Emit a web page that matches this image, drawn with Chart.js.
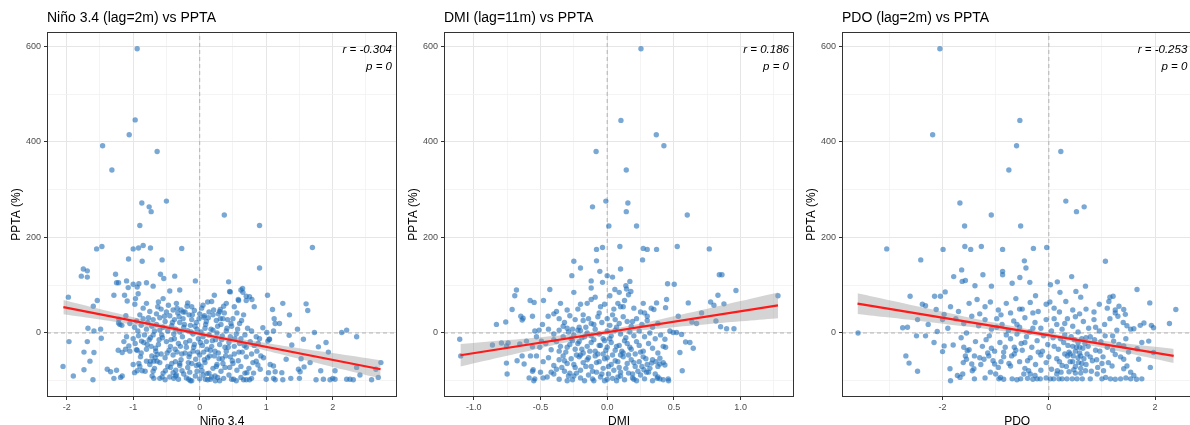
<!DOCTYPE html>
<html><head><meta charset="utf-8">
<script src="https://cdn.jsdelivr.net/npm/chart.js@4.4.1/dist/chart.umd.min.js"></script>
<style>
html,body{margin:0;padding:0;background:#fff;overflow:hidden;width:1190px;height:425px;}
canvas{position:absolute;top:0;}
</style></head><body>
<canvas id="c1" width="400" height="427" style="left:0px"></canvas>
<canvas id="c2" width="400" height="427" style="left:397px"></canvas>
<canvas id="c3" width="400" height="427" style="left:795px"></canvas>
<script>
// ---------- DATA ----------
const titles = ["Niño 3.4 (lag=2m) vs PPTA", "DMI (lag=11m) vs PPTA", "PDO (lag=2m) vs PPTA"];
const xTitles = ["Niño 3.4", "DMI", "PDO"];
const yTitle = "PPTA (%)";
const rTexts = ["r = -0.304", "r = 0.186", "r = -0.253"];
const pTexts = ["p = 0", "p = 0", "p = 0"];
const yTickLabels = [0, 200, 400, 600];

const ninoPts = [
[-0.94,595],[-0.97,446],[-1.06,415],[-1.46,392],[-0.64,380],[-1.32,341],[-0.87,272],[-0.76,264],[-0.73,254],[-0.5,276],[0.37,247],[-0.9,225],[0.9,225],[1.695,179],[0.9,136],
[-1.55,176],[-1.47,181],[-1.0,176],[-0.92,178],[-0.85,183],[-0.74,178],[-0.27,177],[-1.07,155],[-0.865,150],[-0.565,153],[-1.75,134],[-1.69,130],[-1.78,119],[-1.69,117],[-1.265,123],[-1.25,105],[-1.22,105],[-1.1,109],[-1.0,102],[-0.915,103],[-0.8,105],[-0.59,123],[-0.54,114],[-0.375,119],[-0.065,109],[-1.075,95],[-0.94,96],[-0.7,98],[-1.29,79],[-1.13,79],[-0.925,82],[-0.965,72],[-1.975,75],[-1.54,68],[-1.6,56],[-1.09,67],[-0.975,60],[-0.8,62],[-1.215,29],[-1.2,18],[-1.11,36],[-1.68,10],[-1.59,4],[-1.49,8],[-1.22,21],[-1.17,16],
[-1.965,-18],[-2.055,-70],[-1.9,-90],[-1.605,-98],[-1.74,-40],[-1.59,-41],[-1.65,-59],[-1.69,-18],[-1.48,-11],[-1.74,-77],[-1.39,-76],[-1.34,-81],[-1.25,-78],[-1.29,-95],[-1.19,-93],[-1.165,-90],[-1.14,-18],[-1.065,-27],[-1.115,-34],[-1.05,-38],[-0.94,-36],[-0.875,-17],[-1.225,-36],[-1.165,-41],[-1.0,-66],[-0.915,-64],[-0.94,-79],[-0.98,-83],[-0.865,-79],[-0.8,-59],[-0.74,-59],[-0.69,-59],[-0.64,-59],[-0.715,-90],[-0.69,-95],[-0.565,-92],[-0.79,-24],[-0.74,-10],[-0.665,-32],[-0.64,-45],[-0.515,-79],[-0.44,-72],[-0.4,-83],[-0.365,-60],[-0.3,-64],[-0.265,-79],[-0.39,-95],[-0.365,-90],[-0.165,-97],[-0.14,-100],[-0.065,-90],[-0.015,-66],[0.035,-79],[0.11,-85],[0.085,-97],[0.16,-97],[0.235,-100],[0.27,-93],
[0.435,107],[0.46,86],[0.62,90],[0.645,93],[0.7,77],[0.785,70],[0.585,68],[0.36,56],[0.31,49],[1.02,79],[1.25,62],[1.6,61],[1.625,47],[1.35,38],[1.095,49],[1.12,30],[1.2,20],[1.135,20],[0.95,11],[1.01,1],[1.05,-13],[1.11,4],[1.47,8],[1.345,-5],[1.385,-25],[1.56,-13],[1.725,1],[1.785,-29],[1.9,-20],[1.935,-40],[2.135,1],[2.21,6],[2.36,-8],[2.725,-62],[2.65,-76],[2.36,-72],[2.41,-88],[2.585,-98],[2.685,-93],[2.26,-97],[2.31,-98],[2.21,-97],[2.035,-97],[2.0,-95],[1.96,-98],[1.86,-97],[1.75,-98],[0.51,-97],[0.66,-98],[0.75,-98],[1.0,-97],[1.11,-95],[1.135,-98],[1.25,-98],[1.37,-95],[1.5,-95],[1.3,-55],[1.525,-54],[1.66,-62],[1.485,-76],[1.51,-81],[1.57,-71],[1.82,-79],[2.035,-79],[1.06,-66],[1.11,-69],[1.035,-83],[1.135,-81],[1.235,-83],[0.96,-52],[0.85,-59],[0.875,-67],[0.91,-76],[0.81,-84],[0.71,-83],[1.025,-17],[1.045,-13],
[-0.45,88],[-0.3,90],[0.22,79],[0.45,87],[0.65,85],[0.75,76],[0.58,70],[-0.55,72],[-0.62,65],[-0.35,62],[-0.18,63],[-0.12,55],[0.05,58],[0.12,65],[0.18,66],[0.3,45],[0.4,62],[0.52,55],[0.7,68],[0.82,55],
[-0.75,45],[-0.65,40],[-0.58,50],[-0.5,44],[-0.45,36],[-0.4,48],[-0.33,42],[-0.28,48],[-0.22,44],[-0.16,38],[-0.08,47],[0.0,40],[0.06,33],[0.14,44],[0.2,38],[0.28,40],[0.35,30],[0.42,28],[0.5,30],[0.56,42],[0.66,38],[-0.9,38],[-0.85,30],[-0.95,25],[-0.7,28],[-0.6,32],[-0.52,24],[-0.38,28],[-0.3,22],[-0.25,30],[-0.12,28],[-0.05,22],[0.1,24],[0.25,26],[0.32,18],[0.48,14],[0.6,20],[0.72,10],[0.78,4],
[-1.05,20],[-0.98,12],[-0.88,16],[-0.8,8],[-0.72,14],[-0.65,18],[-0.6,6],[-0.55,12],[-0.48,4],[-0.42,15],[-0.36,8],[-0.3,2],[-0.24,12],[-0.18,5],[-0.14,16],[-0.1,-2],[-0.04,8],[0.02,2],[0.08,10],[0.14,-4],[0.2,6],[0.26,0],[0.34,-6],[0.4,4],[0.46,-8],[0.55,-2],[0.62,-12],[0.68,-4],[0.85,-8],[0.9,-12],
[-1.1,-8],[-1.0,-12],[-0.92,-6],[-0.84,-20],[-0.76,-14],[-0.7,-4],[-0.62,-24],[-0.56,-10],[-0.5,-18],[-0.44,-28],[-0.38,-12],[-0.32,-22],[-0.26,-8],[-0.2,-30],[-0.15,-16],[-0.08,-24],[-0.02,-12],[0.04,-26],[0.1,-18],[0.18,-28],[0.24,-14],[0.3,-24],[0.38,-30],[0.44,-20],[0.52,-28],[0.6,-22],[0.7,-30],[0.76,-18],[0.82,-26],[0.88,-22],
[-0.95,-35],[-0.88,-42],[-0.8,-34],[-0.72,-48],[-0.66,-38],[-0.58,-44],[-0.52,-52],[-0.46,-36],[-0.4,-46],[-0.34,-40],[-0.28,-56],[-0.22,-42],[-0.16,-50],[-0.1,-38],[-0.06,-55],[0.0,-46],[0.06,-40],[0.12,-52],[0.16,-36],[0.22,-48],[0.28,-42],[0.34,-54],[0.4,-38],[0.46,-50],[0.52,-44],[0.58,-58],[0.64,-40],[0.7,-50],[0.78,-44],[0.86,-38],[0.92,-48],
[-0.9,-70],[-0.82,-80],[-0.75,-66],[-0.68,-74],[-0.6,-62],[-0.55,-84],[-0.48,-70],[-0.42,-64],[-0.36,-78],[-0.3,-68],[-0.24,-86],[-0.18,-72],[-0.12,-64],[-0.04,-80],[0.02,-70],[0.08,-62],[0.14,-84],[0.2,-74],[0.26,-66],[0.32,-80],[0.38,-72],[0.44,-88],[0.5,-64],[0.56,-78],[0.62,-70],[0.68,-84],[0.74,-74],[0.8,-62],
[-0.6,-95],[-0.52,-98],[-0.45,-92],[-0.32,-97],[-0.2,-94],[-0.12,-100],[0.0,-96],[0.12,-98],[0.18,-92],[0.3,-100],[0.36,-95],[0.48,-97],[0.55,-100],[0.62,-93],[0.7,-98],[0.78,-95],
[-0.85,52],[-0.78,22],[-0.68,4],[-0.63,55],[-0.57,-4],[-0.53,35],[-0.47,58],[-0.43,-14],[-0.41,22],[-0.37,-34],[-0.34,52],[-0.31,34],[-0.27,-44],[-0.23,18],[-0.21,-20],[-0.19,56],[-0.17,-62],[-0.13,2],[-0.11,38],[-0.09,-30],[-0.07,14],[-0.03,-40],[-0.01,30],[0.01,-20],[0.03,52],[0.05,-8],[0.07,-56],[0.09,18],[0.11,-34],[0.13,32],[0.15,-48],[0.17,8],[0.19,-16],[0.21,48],[0.23,-38],[0.27,14],[0.29,-54],[0.31,30],[0.33,-14],[0.37,42],[0.39,-48],[0.41,10],[0.43,-30],[0.47,20],[0.49,-58],[0.53,-12],[0.57,8],[0.59,-40],[0.63,26],[0.67,-26],[-0.97,-22],[-0.93,4],[-0.89,-50],[-0.83,-4],[-0.77,32],[-0.73,-28],[-0.67,-52],[-0.61,-14],[-0.49,-42],[-0.39,-2],[-0.29,-28],[-0.25,44],[-0.15,-44],[-0.05,-68],[0.07,36],[0.25,-70],[0.35,-64],[0.45,-72],[-0.35,-88],[-0.15,-82],[0.05,-88],[0.23,-90],[-0.7,-80]
];

const dmiPts = [
[0.253,595],[0.103,445],[0.368,415],[0.425,392],[-0.083,380],[0.143,341],[0.155,272],[-0.01,276],[-0.11,264],[0.143,254],[0.6,247],[0.0125,224],[0.22,224],
[-0.035,179],[-0.08,175],[0.095,181],[0.27,177],[0.3,175],[0.37,175],[0.765,176],[0.525,181],[-0.25,150],[-0.08,151],[0.10,134],[0.265,153],[-0.2,136],[-0.055,129],[0.04,117],[-0.265,120],[-0.12,109],[-0.12,94],[-0.035,106],[0.0,120],[0.0575,91],[0.09,85],[0.145,92],[0.17,108],[0.1775,87],[0.14,99],
[0.84,122],[0.86,122],[0.965,89],[1.28,78],[0.775,65],[0.83,79],[0.8,58],[0.875,61],[0.815,25],[0.85,13],[0.895,9],[0.95,9],[0.6075,63],[0.635,23],[0.67,20],[0.7075,42],[0.645,-32],[0.62,-20],[0.5875,-19],[0.545,-41],[0.5625,-79],[0.4525,103],[0.5025,102],[0.445,70],[0.37,63],[0.35,49],[0.4375,53],[0.5325,35],[0.47,4],[0.495,1],[0.52,1],[0.5575,-3],[0.4325,-13],[0.4375,-30],[0.395,-53],[0.365,-60],[0.395,-65],[0.4325,-67],[0.275,-77],[0.3325,-63],[0.375,-95],[0.4575,-96],[0.395,-96],[0.295,-82],
[-1.105,-13],[-1.0975,-48],[-0.86,-25],[-0.7925,-21],[-0.7425,-21],[-0.83,18],[-0.76,23],[-0.755,-27],[-0.755,-63],[-0.75,-86],[-0.68,90],[-0.6925,78],[-0.7125,49],[-0.6475,35],[-0.6375,27],[-0.63,31],[-0.5775,68],[-0.5475,64],[-0.4775,68],[-0.56,35],[-0.605,-17],[-0.655,-23],[-0.6225,-65],[-0.675,-58],[-0.6375,-48],[-0.5425,4],[-0.53,-8],[-0.56,-29],[-0.575,-48],[-0.53,-48],[-0.555,-77],[-0.56,-80],[-0.5425,-96],[-0.585,-94],[-0.48,-94],[-0.43,91],[-0.4425,35],[-0.485,18],[-0.51,6],[-0.4925,-17],[-0.505,-30],
[-0.35,62],[-0.3,48],[-0.25,85],[-0.2,60],[-0.15,62],[-0.12,70],[-0.09,75],[-0.05,55],[-0.02,60],[0.02,78],[0.05,50],[0.08,62],[0.1,55],[0.13,68],[0.16,80],[0.2,52],[0.25,44],[-0.18,38],[0.12,55],[-0.38,45],[0.28,42],[0.3,35],[0.33,52],
[-0.4,40],[-0.36,30],[-0.32,22],[-0.28,36],[-0.24,28],[-0.21,12],[-0.18,26],[-0.14,30],[-0.1,18],[-0.07,34],[-0.04,22],[0.0,30],[0.02,16],[0.06,28],[0.09,20],[0.12,34],[0.15,24],[0.18,14],[0.22,30],[0.26,18],[0.3,26],[0.34,12],[0.38,20],[-0.3,10],[-0.26,8],[-0.2,5],[-0.16,12],
[-0.44,8],[-0.4,-2],[-0.36,6],[-0.33,-8],[-0.29,2],[-0.25,-4],[-0.22,6],[-0.19,-10],[-0.15,0],[-0.12,-6],[-0.09,8],[-0.06,-2],[-0.03,-12],[0.0,4],[0.03,-6],[0.06,6],[0.1,-2],[0.14,-10],[0.17,2],[0.2,-6],[0.24,4],[0.28,-8],[0.32,0],[0.36,-12],[0.4,-4],
[-0.46,-22],[-0.42,-35],[-0.38,-18],[-0.35,-28],[-0.31,-40],[-0.28,-24],[-0.24,-34],[-0.21,-18],[-0.18,-42],[-0.15,-28],[-0.12,-20],[-0.09,-38],[-0.06,-26],[-0.03,-44],[0.0,-30],[0.03,-20],[0.06,-36],[0.09,-26],[0.12,-42],[0.15,-22],[0.18,-34],[0.21,-44],[0.24,-26],[0.27,-38],[0.31,-22],[0.34,-32],[0.38,-42],[0.42,-28],[-0.26,-16],[-0.02,-16],
[-0.48,-60],[-0.44,-52],[-0.4,-68],[-0.36,-56],[-0.33,-48],[-0.3,-64],[-0.27,-54],[-0.24,-72],[-0.21,-50],[-0.18,-62],[-0.15,-56],[-0.12,-70],[-0.09,-48],[-0.06,-60],[-0.03,-74],[0.0,-52],[0.03,-66],[0.06,-58],[0.09,-72],[0.12,-50],[0.15,-64],[0.18,-56],[0.21,-70],[0.24,-60],[0.27,-50],[0.3,-66],[0.34,-56],[0.38,-70],[0.42,-62],[-0.2,-46],[0.1,-46],
[-0.5,-82],[-0.45,-92],[-0.4,-86],[-0.36,-97],[-0.32,-80],[-0.29,-90],[-0.26,-98],[-0.23,-84],[-0.2,-94],[-0.17,-100],[-0.14,-88],[-0.11,-96],[-0.08,-82],[-0.05,-92],[-0.02,-100],[0.01,-86],[0.04,-95],[0.07,-100],[0.1,-90],[0.13,-98],[0.16,-84],[0.19,-94],[0.22,-100],[0.25,-88],[0.28,-96],[0.31,-82],[0.34,-100],[0.38,-92],[0.42,-98],[0.46,-100],[-0.55,-100],[-0.3,-100],[0.0,-97],[0.2,-97],[-0.1,-100],[0.08,-92],[-0.25,-90],
[-0.34,-72],[-0.32,-58],[-0.3,-30],[-0.28,-84],[-0.27,-12],[-0.25,-66],[-0.23,-46],[-0.22,-22],[-0.2,-78],[-0.19,-34],[-0.17,-8],[-0.16,-70],[-0.14,-52],[-0.13,-38],[-0.11,-80],[-0.1,-14],[-0.08,-62],[-0.07,-44],[-0.05,-26],[-0.04,-86],[-0.02,-54],[-0.01,-36],[0.01,-70],[0.02,-12],[0.04,-46],[0.05,-78],[0.07,-28],[0.08,-60],[0.1,-82],[0.11,-38],[0.13,-16],[0.14,-74],[0.16,-46],[0.17,-30],[0.19,-86],[0.2,-62],[0.22,-18],[0.23,-80],[0.25,-40],[0.26,-70],[0.29,-54],[0.32,-74],[0.36,-86],[-0.38,-76],[-0.42,-82],[-0.36,-38],[-0.4,-14],[-0.33,14],[-0.12,20],[0.07,12],[0.19,24],[-0.06,42],[0.04,38],[-0.22,50],[0.27,62]
];

const pdoPts = [
[-2.05,595],[-0.545,445],[-2.186,415],[-0.607,392],[0.226,380],[-0.752,341],[-1.673,272],[0.32,276],[0.665,264],[0.52,254],[-1.083,247],[-0.53,224],[-1.585,224],
[-3.05,176],[-1.99,175],[-1.58,181],[-1.47,175],[-1.27,181],[-0.87,175],[-0.29,177],[-0.04,179],[1.065,150],[-2.41,153],[-0.46,151],[-0.43,136],[-1.64,132],[-1.79,118],[-1.63,108],[-1.57,110],[-1.24,122],[-0.87,129],[-0.87,122],[-1.08,98],[-1.39,99],[-0.69,104],[-0.545,116],[-0.357,106],[0.03,101],[0.16,107],[0.21,85],[0.43,118],[0.69,98],[0.51,87],[1.66,91],[1.9,63],[2.39,49],[2.27,20],[1.93,16],[1.97,11],[1.91,-72],
[-3.59,0],[-2.75,11],[-2.66,12],[-2.61,77],[-2.38,60],[-2.32,57],[-2.47,28],[-2.49,-6],[-2.32,-6],[-2.27,18],[-2.69,-48],[-2.63,-63],[-2.47,-80],[-2.15,77],[-2.04,77],[-1.95,86],[-2.12,49],[-1.97,39],[-2.0,28],[-2.16,-20],[-2.0,-39],[-1.97,-27],[-1.86,-75],[-1.85,-100],[-1.72,-89],[-1.67,-93],[-1.62,-86],
[1.15,75],[1.21,77],[1.13,66],[1.41,49],[1.44,39],[1.25,42],[1.32,56],[1.47,15],[1.54,8],[1.72,16],[1.79,21],[1.6,9],[1.88,-17],[1.75,-20],[1.66,-33],[1.41,-27],[1.22,-17],[1.41,-55],[1.47,-69],[1.54,-82],[1.6,-89],[1.75,-96],[1.54,-96],[1.41,-75],[1.16,-96],[1.07,-93],[1.0,-96],[1.19,-69],[1.97,-41],[1.69,-55],
[-1.6,-30],[-1.535,-37],[-1.57,-48],[-1.61,-62],[-1.41,-75],[-1.44,-79],[-1.1,-82],[-1.0,-86],[-0.94,-96],[-0.91,-93],[-1.22,-55],[-1.13,-48],[-1.02,-65],[-0.72,-69],[-0.69,-96],[-0.53,-96],[-0.47,-86],[-0.22,-96],[-0.16,-96],[-0.26,-89],[-0.38,-79],
[0.03,-96],[0.09,-96],[0.19,-96],[0.25,-96],[0.34,-96],[0.44,-96],[0.53,-96],[0.63,-96],[0.16,-79],[0.23,-82],[0.38,-81],[0.47,-77],[0.6,-84],[0.69,-79],[0.78,-96],[0.91,-86],[1.03,-79],
[-1.5,62],[-1.35,70],[-1.2,55],[-1.1,65],[-0.95,48],[-0.8,62],[-0.62,72],[-0.5,50],[-0.35,64],[-0.2,45],[-0.05,60],[0.1,52],[0.2,44],[0.32,66],[0.45,48],[0.58,40],[0.7,50],[0.85,44],[0.95,60],[1.1,52],[1.25,48],[-1.7,45],[-1.85,55],[-1.3,40],[-0.72,42],[0.02,65],[0.6,75],[-0.25,78],[1.3,35],
[-1.75,30],[-1.6,20],[-1.45,35],[-1.32,15],[-1.2,28],[-1.08,8],[-0.98,30],[-0.88,18],[-0.76,5],[-0.66,25],[-0.55,12],[-0.45,32],[-0.36,2],[-0.26,22],[-0.15,10],[-0.05,28],[0.05,4],[0.15,18],[0.25,8],[0.35,30],[0.45,14],[0.55,2],[0.65,24],[0.75,10],[0.85,28],[0.95,4],[1.05,18],[1.15,30],[1.28,6],[1.4,22],[-1.9,10],[-2.1,3],[-1.55,0],[-0.6,-2],[0.3,-4],
[-1.8,-25],[-1.65,-10],[-1.5,-35],[-1.38,-18],[-1.25,-28],[-1.12,-6],[-1.02,-38],[-0.92,-20],[-0.82,-30],[-0.72,-12],[-0.62,-36],[-0.52,-22],[-0.42,-8],[-0.32,-30],[-0.22,-16],[-0.12,-38],[-0.02,-24],[0.08,-10],[0.18,-34],[0.28,-20],[0.38,-40],[0.48,-14],[0.58,-30],[0.68,-22],[0.78,-8],[0.88,-36],[0.98,-18],[1.1,-30],[1.2,-6],[1.32,-24],[1.45,-12],[0.5,-38],[0.45,-28],[0.55,-20],[0.62,-12],
[-1.55,-55],[-1.4,-48],[-1.28,-66],[-1.15,-42],[-1.05,-58],[-0.95,-72],[-0.85,-50],[-0.75,-64],[-0.65,-44],[-0.55,-60],[-0.45,-74],[-0.35,-52],[-0.25,-66],[-0.15,-46],[-0.05,-62],[0.05,-76],[0.15,-54],[0.25,-68],[0.35,-48],[0.45,-60],[0.5,-70],[0.55,-52],[0.62,-64],[0.72,-44],[0.82,-58],[0.92,-72],[1.02,-50],[1.12,-62],[1.25,-45],[0.4,-44],[0.6,-48],
[-1.4,-96],[-1.2,-94],[-0.85,-97],[-0.6,-98],[-0.4,-95],[-0.3,-97],[-0.05,-94],[1.25,-97],[1.35,-96],[1.45,-94],[1.65,-97],
[-1.18,-14],[-1.08,-32],[-0.98,12],[-0.9,-60],[-0.8,-4],[-0.7,-48],[-0.6,18],[-0.5,-36],[-0.4,-58],[-0.3,10],[-0.2,-40],[-0.1,-6],[0.0,-50],[0.1,-28],[0.2,-60],[0.22,-12],[0.3,-44],[0.33,-70],[0.36,-26],[0.4,-60],[0.42,-8],[0.46,-48],[0.5,-84],[0.52,-30],[0.56,-62],[0.58,-42],[0.6,-74],[0.64,-32],[0.66,-54],[0.7,-66],[0.74,-28],[0.78,-50],[0.8,-80],[0.86,-14],[0.9,-56],[0.96,-38],[1.0,-64],[1.06,-6],[-0.45,-20],[-0.65,-30],[-0.85,-40],[-1.3,-52],[-1.45,-65],[0.15,-86],[-0.15,-78],[-0.35,-86],[0.1,30],[-0.3,42],[0.3,20],[0.5,34],[0.7,-10],[0.88,12],[-0.55,50],[-0.9,38],[1.2,-36],[1.35,-50],[1.5,-40]
];

// regression lines (endpoints) and confidence band
const ninoLineX = [-2.05, 2.72], ninoLineY = [54, -76];
const ninoBandX  = [-2.05,-1.5,-1,-0.5,0,0.5,1,1.5,2,2.72];
const ninoBandHi = [69,50,33,17,2.5,-10,-21,-32,-42,-57];
const ninoBandLo = [39,28,17,6,-6.5,-21,-37,-54,-71,-95];

const dmiLineX = [-1.1, 1.28], dmiLineY = [-46.6, 57.9];
const dmiBandX  = [-1.1,-0.75,-0.5,-0.25,0,0.25,0.5,0.75,1,1.28];
const dmiBandHi = [-23.3,-14.9,-8.8,-2.2,6.7,19.8,35.2,50.9,66.9,84.9];
const dmiBandLo = [-69.9,-47.5,-31.8,-16.4,-3.3,5.6,12.2,18.3,24.3,30.9];

const pdoLineX = [-3.6, 2.35], pdoLineY = [61.4, -48];
const pdoBandX  = [-3.6,-3,-2,-1,0,1,2,2.35];
const pdoBandHi = [83,68.6,44.7,21.3,0.2,-15.5,-28.9,-33.4];
const pdoBandLo = [39.8,32.2,19.3,5.9,-9.8,-30.9,-54.3,-62.6];

// axis limits
const yLim = [-134, 630];
const ninoXLim = [-2.296, 2.967];
const dmiXLim = [-1.223, 1.40];
const pdoXLim = [-3.892, 2.70];

// ---------- CHARTS ----------
const FONT = '"Liberation Sans", Arial, Helvetica, sans-serif';
const near = (a, b) => Math.abs(a - b) < 1e-6;
const toXY = arr => arr.map(p => ({x: p[0], y: p[1]}));
const zip = (xs, ys) => xs.map((x, i) => ({x, y: ys[i]}));

const framePlugin = {
  id: 'frame',
  afterDatasetsDraw(chart, args, opts) {
    const {ctx, chartArea: a} = chart;
    ctx.save();
    ctx.strokeStyle = '#333333';
    ctx.lineWidth = 1;
    ctx.strokeRect(Math.round(a.left) + 0.5, Math.round(a.top) + 0.5,
                   Math.round(a.right - a.left) - 1, Math.round(a.bottom - a.top) - 1);
    ctx.font = 'italic 11.5px ' + FONT;
    ctx.fillStyle = '#000';
    ctx.textAlign = 'right';
    ctx.textBaseline = 'middle';
    ctx.fillText(opts.r, a.right - 5, a.top + 18);
    ctx.fillText(opts.p, a.right - 5, a.top + 35);
    ctx.restore();
  }
};

function makeChart(id, idx, pts, lineX, lineY, bandX, bandHi, bandLo, xLim, xStep, isMajorX, fmtX, padRight) {
  const ctx = document.getElementById(id);
  new Chart(ctx, {
    type: 'scatter',
    data: {
      datasets: [
        {type:'line', data: [{x:0,y:yLim[0]},{x:0,y:yLim[1]}], borderColor:'#b3b3b3', borderWidth:1, borderDash:[4,3], pointRadius:0, order:5},
        {type:'line', data: [{x:xLim[0],y:0},{x:xLim[1],y:0}], borderColor:'#b3b3b3', borderWidth:1, borderDash:[4,3], pointRadius:0, order:5},
        {type:'scatter', data: toXY(pts), pointRadius:2.7, backgroundColor:'rgba(31,110,185,0.6)', borderWidth:0, pointHoverRadius:2.7, order:4},
        {type:'line', data: zip(bandX, bandLo), borderWidth:0, pointRadius:0, fill:false, tension:0.4, order:3},
        {type:'line', data: zip(bandX, bandHi), borderWidth:0, pointRadius:0, fill:'-1', backgroundColor:'rgba(153,153,153,0.42)', tension:0.4, order:2},
        {type:'line', data: zip(lineX, lineY), borderColor:'#ff1a1a', borderWidth:2.2, pointRadius:0, fill:false, order:1}
      ]
    },
    options: {
      responsive: false,
      animation: false,
      events: [],
      layout: {padding: {left:0, right:padRight, top:0, bottom:0}},
      plugins: {
        legend: {display:false},
        tooltip: {enabled:false},
        title: {display:true, text: titles[idx], align:'start', fullSize:false, color:'#000',
                font:{family:FONT, size:14, lineHeight:1.2, weight:'normal'}, padding:{top:10, bottom:5.2}},
        frame: {r: rTexts[idx], p: pTexts[idx]}
      },
      scales: {
        x: {
          type:'linear', min:xLim[0], max:xLim[1],
          afterFit: s => { s.height = 30; },
          border: {display:false},
          grid: {
            color: c => isMajorX(c.tick.value) ? '#e6e6e6' : '#f1f1f1',
            lineWidth: c => isMajorX(c.tick.value) ? 1 : 0.8,
            tickColor: c => isMajorX(c.tick.value) ? '#333333' : 'rgba(0,0,0,0)',
            tickLength: 3, drawTicks: true
          },
          ticks: {stepSize:xStep, autoSkip:false, maxRotation:0, includeBounds:false, padding:2,
                  color:'#4d4d4d', font:{family:FONT, size:9},
                  callback: v => isMajorX(v) ? fmtX(v) : ''},
          title: {display:true, text:xTitles[idx], color:'#000', font:{family:FONT, size:12, lineHeight:1}, padding:{top:0,bottom:-1}}
        },
        y: {
          type:'linear', min:yLim[0], max:yLim[1],
          afterFit: s => { s.width = 47; },
          border: {display:false},
          grid: {
            color: c => near(c.tick.value % 200, 0) ? '#e6e6e6' : '#f1f1f1',
            lineWidth: c => near(c.tick.value % 200, 0) ? 1 : 0.8,
            tickColor: c => near(c.tick.value % 200, 0) ? '#333333' : 'rgba(0,0,0,0)',
            tickLength: 3, drawTicks: true
          },
          ticks: {stepSize:100, autoSkip:false, includeBounds:false, padding:3,
                  color:'#4d4d4d', font:{family:FONT, size:9},
                  callback: v => yTickLabels.some(t => near(t, v)) ? String(v) : ''},
          title: {display:true, text:yTitle, color:'#000', font:{family:FONT, size:12, lineHeight:1}, padding:{top:11,bottom:0}}
        }
      }
    },
    plugins: [framePlugin]
  });
}

makeChart('c1', 0, ninoPts, ninoLineX, ninoLineY, ninoBandX, ninoBandHi, ninoBandLo, ninoXLim, 0.5,
  v => near(v, Math.round(v)), v => String(Math.round(v)), 3);
makeChart('c2', 1, dmiPts, dmiLineX, dmiLineY, dmiBandX, dmiBandHi, dmiBandLo, dmiXLim, 0.25,
  v => near(v * 2, Math.round(v * 2)), v => v.toFixed(1), 3);
makeChart('c3', 2, pdoPts, pdoLineX, pdoLineY, pdoBandX, pdoBandHi, pdoBandLo, pdoXLim, 1,
  v => near(v, Math.round(v)) && Math.round(v) % 2 === 0, v => String(Math.round(v)), 2);
</script>
</body></html>
